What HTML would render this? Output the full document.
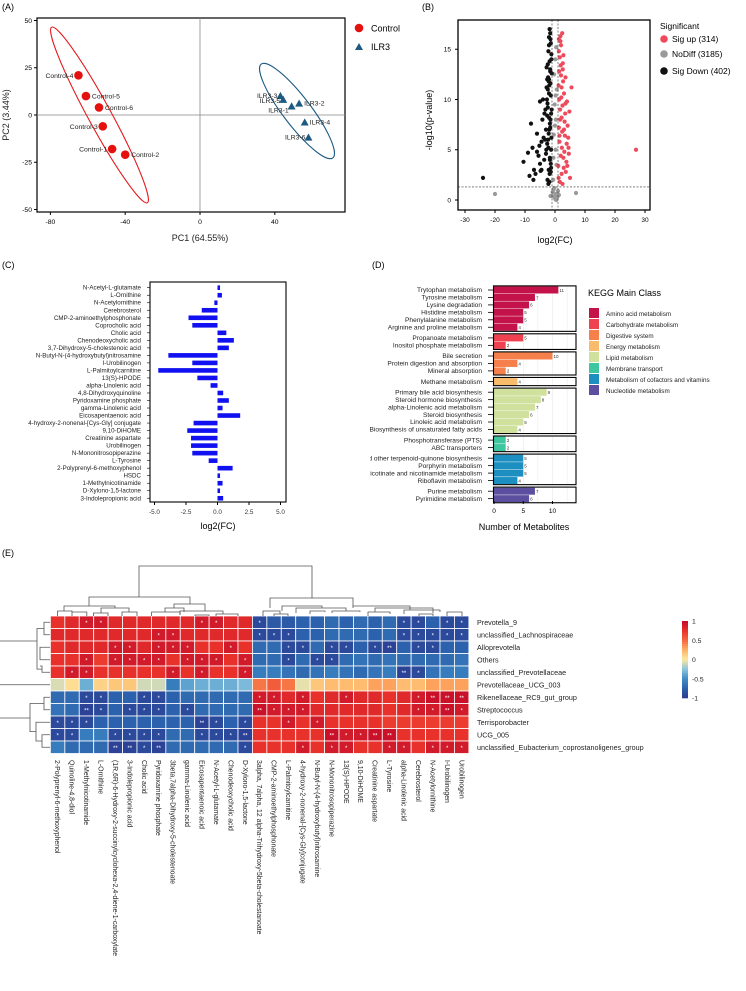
<!DOCTYPE html>
<html><head><meta charset="utf-8"><style>
html,body{margin:0;padding:0;background:#fff;}
svg{display:block;font-family:"Liberation Sans",Arial,sans-serif;}
</style></head><body>
<svg id="fig" width="746" height="991" viewBox="0 0 746 991" xmlns="http://www.w3.org/2000/svg">
<defs><clipPath id="clipD"><rect x="370" y="250" width="376" height="300"/></clipPath></defs>
<g id="pA"></g>
<g id="pB"></g>
<g id="pC"></g>
<g id="pD" clip-path="url(#clipD)"></g>
<g id="pE"></g>
</svg>
<script>
// ---------- Panel A data ----------
const ctrlNames=["Control-4","Control-5","Control-6","Control-3","Control-1","Control-2"];
const ctrlPC1=[-65,-61,-54,-52,-47,-40];
const ctrlPC2=[21,10,4,-6,-18,-21];
const ilrNames=["ILR3-3","ILR3-5","ILR3-2","ILR3-1","ILR3-4","ILR3-6"];
const ilrPC1=[43,44.5,53,49,56,58];
const ilrPC2=[10,8,6,4.5,-4,-12];
const pcaXTicks=[-80,-40,0,40];
const pcaYTicks=[50,25,0,-25,-50];
// ---------- Panel B data ----------
const downX=[-24,-10.5,-8,-5,-9,-7.5,-6,-8.5,-7,-6.5,-5.5,-4.5,-4,-3.5,-3,-5,-4.5,-6,-3.8,-4.2,-3.2,-2.8,-7.2,-5.2,-4.8,-3.6,-2.6,-2.4,-2.2,-2,-1.8,-1.6,-1.4,-1.2,-2.5,-2.1,-1.7,-1.3,-2.3,-1.9,-1.5,-1.1,-2.7,-2.4,-2,-1.6,-1.2,-2.2,-1.8,-1.4,-3,-2.6,-2.1,-1.7,-1.3,-2.5,-2,-1.5,-1.1,-2.8,-2.3,-1.9,-1.4,-2.4,-2,-1.6,-1.2,-2.2,-1.7,-1.3,-2,-1.5,-1.9,-1.4,-2.1,-1.6,-1.8,-2.6,-3.3,-2.9];
const downY=[2.2,3.8,7.6,9.8,4.7,5.2,6.6,2.4,3,2.6,4.4,5.8,10,8.6,7,3.6,3,4.8,6.2,8,9,11.2,2,5.4,2.9,4,12,13.5,14.8,16.2,17,16.6,15.6,14,2,3,4,5,6,7,8,9,10,11,12,13,14.5,1.6,2.6,3.6,4.6,5.6,6.6,7.6,8.6,9.6,10.6,11.6,12.6,13.2,12.2,11.4,10.4,9.2,8.2,7.2,6.2,5.2,4.2,3.2,15.4,16,1.8,2.8,11.8,12.8,13.8,8.4,6,5];
const upX=[27,5.5,5,4.8,4.5,4.2,4,3.8,3.5,3.3,3,2.8,2.6,2.4,2.2,2,1.8,1.6,1.4,1.2,3.6,4.4,2.5,3.2,4.6,2.1,1.7,1.3,2.9,3.9,1.5,2.3,1.9,1.1,2.7,3.4,1.6,2.2,1.3,2.6,1.8,3.1,1.4,2,1.2,2.4,1.7,3.5,2.8,1.5,4.1,2.2,1.9,1.3,3,2.5];
const upY=[5,11.2,2.2,8.8,5.2,7.4,9.8,3.8,12.2,6.4,10.6,4.2,13.6,16.6,8.2,15.4,16.3,14.2,12.8,11.4,2.8,6.2,9.4,7.8,4.6,10.2,9,7.2,3.2,5.6,6.4,5.2,4.4,3.4,11.8,8.6,1.8,2.6,14.8,13,15.8,4.8,10,12.4,2.2,6.8,8,9.6,14.4,5.8,3.4,11.2,13.4,16,7,1.6];
const ndX=[-20,7,-1.5,-0.8,-0.3,0.2,0.6,1,1.3,-0.5,0.4,-1,0.8,-0.2,0.1,-0.6,0.5,0.2,-0.4,0.3,-0.1,0.6,-0.3,0.1,0.4,-0.5,0,0.2];
const ndY=[0.6,0.7,0.4,0.8,0.3,0.6,0.2,0.9,0.5,1,0,0.4,0.3,1.2,0.1,2,3.5,5,6.5,8,9.5,11,12.5,14,15.2,4.2,7.4,10.4];
const volXTicks=[-30,-20,-10,0,10,20,30];
const volYTicks=[0,5,10,15];
// ---------- Panel C data ----------
const fcNames=["N-Acetyl-L-glutamate","L-Ornithine","N-Acetylornithine","Cerebrosterol","CMP-2-aminoethylphosphonate","Coprocholic acid","Cholic acid","Chenodeoxycholic acid","3,7-Dihydroxy-5-cholestenoic acid","N-Butyl-N-(4-hydroxybutyl)nitrosamine","I-Urobilinogen","L-Palmitoylcarnitine","13(S)-HPODE","alpha-Linolenic acid","4,8-Dihydroxyquinoline","Pyridoxamine phosphate","gamma-Linolenic acid","Eicosapentaenoic acid","4-hydroxy-2-nonenal-[Cys-Gly] conjugate","9,10-DiHOME","Creatinine aspartate","Urobilinogen","N-Mononitrosopiperazine","L-Tyrosine","2-Polyprenyl-6-methoxyphenol","HSDC","1-Methylnicotinamide","D-Xylono-1,5-lactone","3-Indolepropionic acid"];
const fcValues=[0.2,0.35,-0.25,-1.25,-2.3,-2.0,0.7,1.3,0.9,-3.9,-2.0,-4.7,-1.6,-0.55,0.45,0.9,0.4,1.8,-1.9,-2.4,-2.1,-2.1,-2.0,-0.7,1.2,0.2,0.4,0.2,0.45];
const fcTicks=[-5,-2.5,0,2.5,5];
const fcTickLabels=["-5.0","-2.5","0.0","2.5","5.0"];
// ---------- Panel D data ----------
const keggNames=["Trytophan metabolism","Tyrosine metabolism","Lysine degradation","Histidine metabolism","Phenylalanine metabolism","Arginine and proline metabolism","Propanoate metabolism","Inositol phosphate metabolism","Bile secretion","Protein digestion and absorption","Mineral absorption","Methane metabolism","Primary bile acid biosynthesis","Steroid hormone biosynthesis","alpha-Linolenic acid metabolism","Steroid biosynthesis","Linoleic acid metabolism","Biosynthesis of unsaturated fatty acids","Phosphotransferase (PTS)","ABC transporters","Ubiquinone and other terpenoid-quinone biosynthesis","Porphyrin metabolism","Nicotinate and nicotinamide metabolism","Riboflavin metabolism","Purine metabolism","Pyrimidine metabolism"];
const keggCounts=[11,7,6,5,5,4,5,2,10,4,2,4,9,8,7,6,5,4,2,2,5,5,5,4,7,6];
const keggGroup=[0,0,0,0,0,0,1,1,2,2,2,3,4,4,4,4,4,4,5,5,6,6,6,6,7,7];
const keggClasses=["Amino acid metabolism","Carbohydrate metabolism","Digestive system","Energy metabolism","Lipid metabolism","Membrane transport","Metabolism of cofactors and vitamins","Nucleotide metabolism"];
const keggColors=["#c4124a","#ef4150","#f6804c","#f9bb6c","#cfe19c","#3ec6a0","#1c8fc0","#5d4fa0"];
const keggTicks=[0,5,10];
// ---------- Panel E data ----------
const hmCols=["2-Polyprenyl-6-methoxyphenol","Quinoline-4,8-diol","1-Methylnicotinamide","L-Ornithine","(1R,6R)-6-Hydroxy-2-succinylcyclohexa-2,4-diene-1-carboxylate","3-Indolepropionic acid","Cholic acid","Pyridoxamine phosphate","3beta,7alpha-Dihydroxy-5-cholestenoate","gamma-Linolenic acid","Eicosapentaenoic acid","N-Acetyl-L-glutamate","Chenodeoxycholic acid","D-Xylono-1,5-lactone","3alpha, 7alpha, 12 alpha-Trihydroxy-5beta-cholestanoate","CMP-2-aminoethylphosphonate","L-Palmitoylcarnitine","4-hydroxy-2-nonenal-[Cys-Gly]conjugate","N-Butyl-N-(4-hydroxybutyl)nitrosamine","N-Mononitrosopiperazine","13(S)-HPODE","9,10-DiHOME","Creatinine aspartate","L-Tyrosine","alpha-Linolenic acid","Cerebrosterol","N-Acetylornithine","I-Urobilinogen","Urobilinogen"];
const hmRows=["Prevotella_9","unclassified_Lachnospiraceae","Alloprevotella","Others","unclassified_Prevotellaceae","Prevotellaceae_UCG_003","Rikenellaceae_RC9_gut_group","Streptococcus","Terrisporobacter","UCG_005","unclassified_Eubacterium_coprostanoligenes_group"];
const hmVals=[
[0.75,0.8,0.9,0.9,0.8,0.8,0.8,0.8,0.8,0.8,0.9,0.9,0.8,0.8,-0.9,-0.8,-0.8,-0.75,-0.75,-0.7,-0.75,-0.7,-0.75,-0.7,-0.9,-0.9,-0.75,-0.9,-0.9],
[0.8,0.8,0.8,0.8,0.8,0.8,0.8,0.9,0.9,0.8,0.8,0.8,0.8,0.8,-0.9,-0.9,-0.9,-0.75,-0.75,-0.7,-0.7,-0.7,-0.75,-0.7,-0.9,-0.9,-0.9,-0.9,-0.9],
[0.75,0.8,0.8,0.8,0.9,0.9,0.8,0.9,0.9,0.9,0.75,0.75,0.9,0.75,-0.7,-0.7,-0.9,-0.9,-0.7,-0.9,-0.9,-0.75,-0.9,-0.95,-0.75,-0.9,-0.9,-0.75,-0.75],
[0.75,0.75,0.9,0.7,0.9,0.9,0.9,0.9,0.75,0.9,0.9,0.9,0.75,0.9,-0.7,-0.7,-0.9,-0.7,-0.9,-0.9,-0.7,-0.65,-0.7,-0.65,-0.7,-0.7,-0.7,-0.7,-0.65],
[0.75,0.9,0.9,0.75,0.75,0.75,0.75,0.75,0.9,0.75,0.9,0.75,0.75,0.9,-0.6,-0.6,-0.65,-0.7,-0.65,-0.6,-0.65,-0.7,-0.65,-0.6,-0.95,-0.9,-0.65,-0.6,-0.6],
[-0.08,0.05,-0.35,0.1,0.15,0.15,-0.1,-0.1,-0.6,-0.4,-0.35,-0.35,-0.35,-0.3,0.45,0.55,0.45,-0.05,0.15,0.2,0.2,0.2,0.3,0.3,0.2,0.2,0.3,0.3,0.3],
[-0.7,-0.7,-0.9,-0.9,-0.75,-0.75,-0.9,-0.9,-0.75,-0.7,-0.7,-0.7,-0.7,-0.7,0.9,0.9,0.8,0.9,0.75,0.8,0.9,0.8,0.8,0.75,0.8,0.9,0.95,0.95,0.95],
[-0.65,-0.7,-0.95,-0.9,-0.75,-0.9,-0.9,-0.9,-0.75,-0.9,-0.7,-0.7,-0.7,-0.7,0.95,0.9,0.9,0.9,0.8,0.8,0.8,0.8,0.8,0.75,0.8,0.9,0.9,0.95,0.9],
[-0.9,-0.9,-0.9,-0.75,-0.75,-0.75,-0.75,-0.75,-0.75,-0.75,-0.95,-0.9,-0.75,-0.9,0.75,0.75,0.9,0.75,0.9,0.75,0.75,0.75,0.75,0.7,0.7,0.7,0.7,0.7,0.7],
[-0.9,-0.9,-0.6,-0.6,-0.9,-0.9,-0.9,-0.9,-0.7,-0.7,-0.9,-0.9,-0.9,-0.95,0.75,0.75,0.75,0.75,0.75,0.95,0.9,0.9,0.95,0.95,0.75,0.75,0.75,0.75,0.75],
[-0.6,-0.7,-0.7,-0.7,-0.95,-0.95,-0.9,-0.95,-0.7,-0.7,-0.7,-0.7,-0.7,-0.9,0.75,0.75,0.75,0.9,0.75,0.9,0.9,0.75,0.75,0.9,0.9,0.75,0.9,0.9,0.9]];
const hmSig=[
[0,0,1,1,0,0,0,0,0,0,1,1,0,0,1,0,0,0,0,0,0,0,0,0,1,1,0,1,1],
[0,0,0,0,0,0,0,1,1,0,0,0,0,0,1,1,1,0,0,0,0,0,0,0,1,1,1,1,1],
[0,0,0,0,1,1,0,1,1,1,0,0,1,0,0,0,1,1,0,1,1,0,1,2,0,1,1,0,0],
[0,0,1,0,1,1,1,1,0,1,1,1,0,1,0,0,1,0,1,1,0,0,0,0,0,0,0,0,0],
[0,1,1,0,0,0,0,0,1,0,1,0,0,1,0,0,0,0,0,0,0,0,0,0,2,1,0,0,0],
[0,0,0,0,0,0,0,0,0,0,0,0,0,0,0,0,0,0,0,0,0,0,0,0,0,0,0,0,0],
[0,0,1,1,0,0,1,1,0,0,0,0,0,0,1,1,0,1,0,0,1,0,0,0,0,1,2,2,2],
[0,0,2,1,0,1,1,1,0,1,0,0,0,0,2,1,1,1,0,0,0,0,0,0,0,1,1,2,1],
[1,1,1,0,0,0,0,0,0,0,2,1,0,1,0,0,1,0,1,0,0,0,0,0,0,0,0,0,0],
[1,1,0,0,1,1,1,1,0,0,1,1,1,2,0,0,0,0,0,2,1,1,2,2,0,0,0,0,0],
[0,0,0,0,2,2,1,2,0,0,0,0,0,1,0,0,0,1,0,1,1,0,0,1,1,0,1,1,1]];
const cbTicks=[1,0.5,0,-0.5,-1];

const NS="http://www.w3.org/2000/svg";
function mk(tag,attrs,parent,txt){const e=document.createElementNS(NS,tag);for(const k in attrs)e.setAttribute(k,attrs[k]);if(txt!==undefined)e.textContent=txt;parent.appendChild(e);return e;}
const A=document.getElementById('pA'),B=document.getElementById('pB'),C=document.getElementById('pC'),D=document.getElementById('pD'),E=document.getElementById('pE');
let el;

// ===== Panel A =====
const ax=v=>200+v*1.87, ay=v=>115-v*1.89;
el=mk('text',{x:2,y:10,'font-size':9},A,'(A)');


el=mk('rect',{x:37,y:18,width:308,height:194,fill:'none',stroke:'#000','stroke-width':1.2},A);


mk('line',{x1:ax(0),x2:ax(0),y1:18,y2:212,stroke:'#888','stroke-width':0.8},A);
mk('line',{x1:37,x2:345,y1:ay(0),y2:ay(0),stroke:'#888','stroke-width':0.8},A);
pcaXTicks.forEach(t=>{mk('line',{x1:ax(t),x2:ax(t),y1:212,y2:215,stroke:'#000'},A);
 el=mk('text',{x:ax(t),y:224,'font-size':6.8,'text-anchor':'middle'},A,String(t));
 
 });
pcaYTicks.forEach(t=>{mk('line',{x1:34,x2:37,y1:ay(t),y2:ay(t),stroke:'#000'},A);
 el=mk('text',{x:32,y:ay(t)+2.3,'font-size':6.8,'text-anchor':'end'},A,String(t));
 
 });
el=mk('text',{x:200,y:241,'font-size':9,'text-anchor':'middle',fill:'#222'},A,'PC1 (64.55%)');


el=mk('text',{x:9,y:115,'font-size':9,'text-anchor':'middle',transform:'rotate(-90 9 115)',fill:'#222'},A,'PC2 (3.44%)');


el=mk('ellipse',{cx:99.5,cy:115,rx:100,ry:11.5,fill:'none',stroke:'#e31a1c','stroke-width':1.1,transform:'rotate(61.4 99.5 115)'},A);


el=mk('ellipse',{cx:297,cy:111,rx:59,ry:14,fill:'none',stroke:'#1c5a82','stroke-width':1.1,transform:'rotate(52.7 297 111)'},A);


const ctrlLab=[[-4,1,'end'],[8,0,'start'],[8,0,'start'],[-4,1,'end'],[-4,1,'end'],[8,0,'start']];
ctrlPC1.forEach((v,i)=>{el=mk('circle',{cx:ax(v),cy:ay(ctrlPC2[i]),r:4.3,fill:'#e5110e'},A);
 
 
 const L=ctrlLab[i];
 el=mk('text',{x:ax(v)+(L[2]==='end'?-5:6),y:ay(ctrlPC2[i])+2.5,'font-size':6.8,'text-anchor':L[2],fill:'#222'},A,ctrlNames[i]);
 
 });
const ilrAnch=['end','end','start','end','start','end'];
ilrPC1.forEach((v,i)=>{const x=ax(v),y=ay(ilrPC2[i]);
 el=mk('polygon',{points:`${x},${y-4.2} ${x-4},${y+3} ${x+4},${y+3}`,fill:'#1c5a82'},A);
 
 
 el=mk('text',{x:x+(ilrAnch[i]==='end'?-3:5),y:y+(i==1?3:i==3?6:2),'font-size':6.8,'text-anchor':ilrAnch[i],fill:'#222'},A,ilrNames[i]);
 
 });
el=mk('circle',{cx:359,cy:28,r:4.3,fill:'#e5110e'},A);


el=mk('text',{x:371,y:31.5,'font-size':9},A,'Control');


el=mk('polygon',{points:'359,43 355,50 363,50',fill:'#1c5a82'},A);


el=mk('text',{x:371,y:50,'font-size':9},A,'ILR3');



// ===== Panel B =====
const bx=v=>555+v*3, by=v=>200-v*10.05;
el=mk('text',{x:422,y:10,'font-size':9},B,'(B)');


ndX.forEach((v,i)=>{el=mk('circle',{cx:bx(v),cy:by(ndY[i]),r:2.1,fill:'#9a9a9a'},B);
 
 });
downX.forEach((v,i)=>{el=mk('circle',{cx:bx(v),cy:by(downY[i]),r:2.1,fill:'#111'},B);
 
 });
upX.forEach((v,i)=>{el=mk('circle',{cx:bx(v),cy:by(upY[i]),r:2.1,fill:'#ee4a5c'},B);
 
 });
[-1,1].forEach(t=>{mk('line',{x1:bx(t),x2:bx(t),y1:20,y2:210,stroke:'#333','stroke-width':0.6,'stroke-dasharray':'2,1.5'},B);});
mk('line',{x1:458,x2:650,y1:by(1.3),y2:by(1.3),stroke:'#333','stroke-width':0.6,'stroke-dasharray':'2,1.5'},B);
el=mk('rect',{x:458,y:20,width:192,height:190,fill:'none',stroke:'#000','stroke-width':1.3},B);


volXTicks.forEach(t=>{mk('line',{x1:bx(t),x2:bx(t),y1:210,y2:213,stroke:'#000'},B);
 el=mk('text',{x:bx(t),y:222,'font-size':6.5,'text-anchor':'middle'},B,String(t));
 
 });
volYTicks.forEach(t=>{mk('line',{x1:455,x2:458,y1:by(t),y2:by(t),stroke:'#000'},B);
 el=mk('text',{x:451,y:by(t)+2.3,'font-size':6.5,'text-anchor':'end'},B,String(t));
 
 });
el=mk('text',{x:555,y:243,'font-size':9,'text-anchor':'middle'},B,'log2(FC)');


el=mk('text',{x:432,y:120,'font-size':9,'text-anchor':'middle',transform:'rotate(-90 432 120)'},B,'-log10(p-value)');


el=mk('text',{x:660,y:29,'font-size':8.5},B,'Significant');


[['Sig up (314)','#ee4a5c',42],['NoDiff (3185)','#9a9a9a',57],['Sig Down (402)','#111',74]].forEach(d=>{
 el=mk('circle',{cx:664,cy:d[2]-3,r:3.8,fill:d[1]},B);
 
 
 el=mk('text',{x:672,y:d[2],'font-size':8.5},B,d[0]);
 
 });

// ===== Panel C =====
const cx=v=>217.5+v*12.6, cy=i=>287.7+i*7.52;
el=mk('text',{x:2,y:268,'font-size':9},C,'(C)');


el=mk('rect',{x:150,y:282,width:136,height:220,fill:'none',stroke:'#000','stroke-width':1.1},C);


fcValues.forEach((v,i)=>{const x0=cx(0),x1=cx(v);
 el=mk('rect',{x:Math.min(x0,x1),y:cy(i)-2.3,width:Math.abs(x1-x0),height:4.6,fill:'#1010f0'},C);
 
 
 mk('line',{x1:147,x2:150,y1:cy(i),y2:cy(i),stroke:'#000','stroke-width':0.6},C);
 el=mk('text',{x:141,y:cy(i)+2,'font-size':6.2,'text-anchor':'end',fill:'#222'},C,fcNames[i]);
 
 });
fcTicks.forEach((t,i)=>{mk('line',{x1:cx(t),x2:cx(t),y1:502,y2:505,stroke:'#000'},C);
 el=mk('text',{x:cx(t),y:514,'font-size':6.3,'text-anchor':'middle',fill:'#333'},C,fcTickLabels[i]);
 
 });
el=mk('text',{x:218,y:529,'font-size':9,'text-anchor':'middle'},C,'log2(FC)');



// ===== Panel D =====
const dx=v=>494+v*5.85, dy=i=>290+i*7.45+keggGroup[i]*3.2;
el=mk('text',{x:372,y:268,'font-size':9},D,'(D)');


for(let g=0;g<keggClasses.length;g++){
 const idx=keggGroup.map((x,i)=>x===g?i:-1).filter(i=>i>=0);
 const top=dy(idx[0])-4.1, bot=dy(idx[idx.length-1])+4.1;
 [2.5,5,7.5,10,12.5].forEach(t=>mk('line',{x1:dx(t),x2:dx(t),y1:top,y2:bot,stroke:'#e6e6e6','stroke-width':0.5},D));
 idx.forEach(i=>{
  el=mk('rect',{x:dx(0),y:dy(i)-3.5,width:dx(keggCounts[i])-dx(0),height:7,fill:keggColors[g]},D);
  
  
  el=mk('text',{x:dx(keggCounts[i])+1,y:dy(i)+1.8,'font-size':4.5,fill:'#333'},D,String(keggCounts[i]));
  
  
  mk('line',{x1:488,x2:493,y1:dy(i),y2:dy(i),stroke:'#000','stroke-width':0.8},D);
  el=mk('text',{x:482,y:dy(i)+2.2,'font-size':6.6,'text-anchor':'end',fill:'#222'},D,keggNames[i]);
  
  });
 el=mk('rect',{x:493.5,y:top,width:82.5,height:bot-top,fill:'none',stroke:'#000','stroke-width':1.1},D);
 
 
 el=mk('rect',{x:589,y:308+g*11,width:10,height:10,fill:keggColors[g]},D);
 
 
 el=mk('text',{x:606,y:316+g*11,'font-size':6.3,fill:'#222'},D,keggClasses[g]);
 
 }
keggTicks.forEach(t=>{mk('line',{x1:dx(t),x2:dx(t),y1:501,y2:504,stroke:'#000'},D);
 el=mk('text',{x:dx(t),y:513,'font-size':6.5,'text-anchor':'middle'},D,String(t));
 
 });
el=mk('text',{x:524,y:530,'font-size':9,'text-anchor':'middle'},D,'Number of Metabolites');


el=mk('text',{x:588,y:296,'font-size':9},D,'KEGG Main Class');



// ===== Panel E =====
const hx0=50.4, cw=14.43, hy0=616, rh=12.5;
const stops=[[-1,[44,58,145]],[-0.75,[44,98,173]],[-0.5,[63,141,198]],[-0.25,[140,196,222]],[0,[253,232,160]],[0.25,[253,177,99]],[0.5,[246,103,63]],[0.75,[232,49,43]],[1,[193,10,42]]];
function col(v){for(let k=0;k<stops.length-1;k++){const a=stops[k],b=stops[k+1];if(v<=b[0]){const t=(v-a[0])/(b[0]-a[0]);const c=a[1].map((q,j)=>Math.round(q+(b[1][j]-q)*t));return `rgb(${c})`;}}return 'rgb(193,10,42)';}
el=mk('text',{x:2,y:556,'font-size':9},E,'(E)');


hmVals.forEach((row,r)=>row.forEach((v,c)=>{
 el=mk('rect',{x:hx0+c*cw,y:hy0+r*rh,width:cw,height:rh,fill:col(v),stroke:'#fff','stroke-width':0.8},E);
 
 
 if(hmSig[r][c]){el=mk('text',{x:hx0+c*cw+cw/2,y:hy0+r*rh+rh/2+2.6,'font-size':6,'text-anchor':'middle',fill:'#fff'},E,hmSig[r][c]===2?'**':'*');
  
  }}));
hmRows.forEach((n,r)=>{el=mk('text',{x:477,y:hy0+r*rh+rh/2+2.5,'font-size':7.2,fill:'#222'},E,n);
 
 });
hmCols.forEach((n,c)=>{const x=hx0+c*cw+cw/2-2.4,y=760;
 el=mk('text',{x:x,y:y,'font-size':6.9,fill:'#222',transform:`rotate(90 ${x} ${y})`},E,n);
 
 });
// column dendrogram
const dg='#555';
function br(x1,x2,yTop,y1b,y2b){mk('path',{d:`M${x1},${y1b}V${yTop}H${x2}V${y2b}`,fill:'none',stroke:dg,'stroke-width':0.8},E);}
br(139,312,566,597,598);
br(89,190,597,606,604);br(270,353,598,608,606);
br(64,115,606,611,608);br(174,205,604,608,611);
br(57.6,72,611,616,612);br(72,86.8,612,616,616);br(101,129,608,613,612);br(93.5,108,613,616,616);br(122,137,612,616,616);
br(165,184,608,612,612);br(151.6,180,612,616,615);br(180,223,611,615,614);br(195,209,615,616,616);br(216,238,614,616,616);
br(282,322,606,611,608);br(263,280,611,616,614);br(274,288,614,616,616);br(296,346,608,613,611);br(310,325,611,614,612);br(332,360,611,613,612);
br(353,410,606,608,610);br(375,433,608,612,613);br(368,390,612,616,614);br(404,440,610,614,612);br(447,462,612,616,616);br(419,433,614,616,616);
// row dendrogram
function rb(xL,y1,y2,x1r,x2r){mk('path',{d:`M${x1r},${y1}H${xL}V${y2}H${x2r}`,fill:'none',stroke:dg,'stroke-width':0.8},E);}
const rc=r=>hy0+r*rh+rh/2;
rb(44,rc(0),rc(1),50,50);rb(40,rc(2),rc(3),50,50);rb(42,rc(3.5),rc(4),40,50);rb(37,rc(0.5),rc(3.75),44,42);
mk('line',{x1:0,x2:37,y1:641,y2:641,stroke:dg,'stroke-width':0.8},E);
mk('line',{x1:0,x2:50,y1:rc(5),y2:rc(5),stroke:dg,'stroke-width':0.8},E);
rb(44,rc(6),rc(7),50,50);rb(42,rc(9),rc(10),50,50);rb(36,rc(8),rc(9.5),50,42);rb(30,rc(6.5),rc(8.75),44,36);
mk('line',{x1:0,x2:30,y1:718,y2:718,stroke:dg,'stroke-width':0.8},E);
// colorbar
const cbTop=621,cbBot=698;
for(let k=0;k<40;k++){const v=1-k*2/40;
 el=mk('rect',{x:682,y:cbTop+k*(cbBot-cbTop)/40,width:6,height:(cbBot-cbTop)/40+0.3,fill:col(v-0.025)},E);
 
 }
cbTicks.forEach(t=>{const y=cbTop+(1-t)/2*(cbBot-cbTop);
 el=mk('text',{x:692,y:y+2.5,'font-size':6.8,fill:'#222'},E,String(t));
 
 });
</script>
</body></html>
